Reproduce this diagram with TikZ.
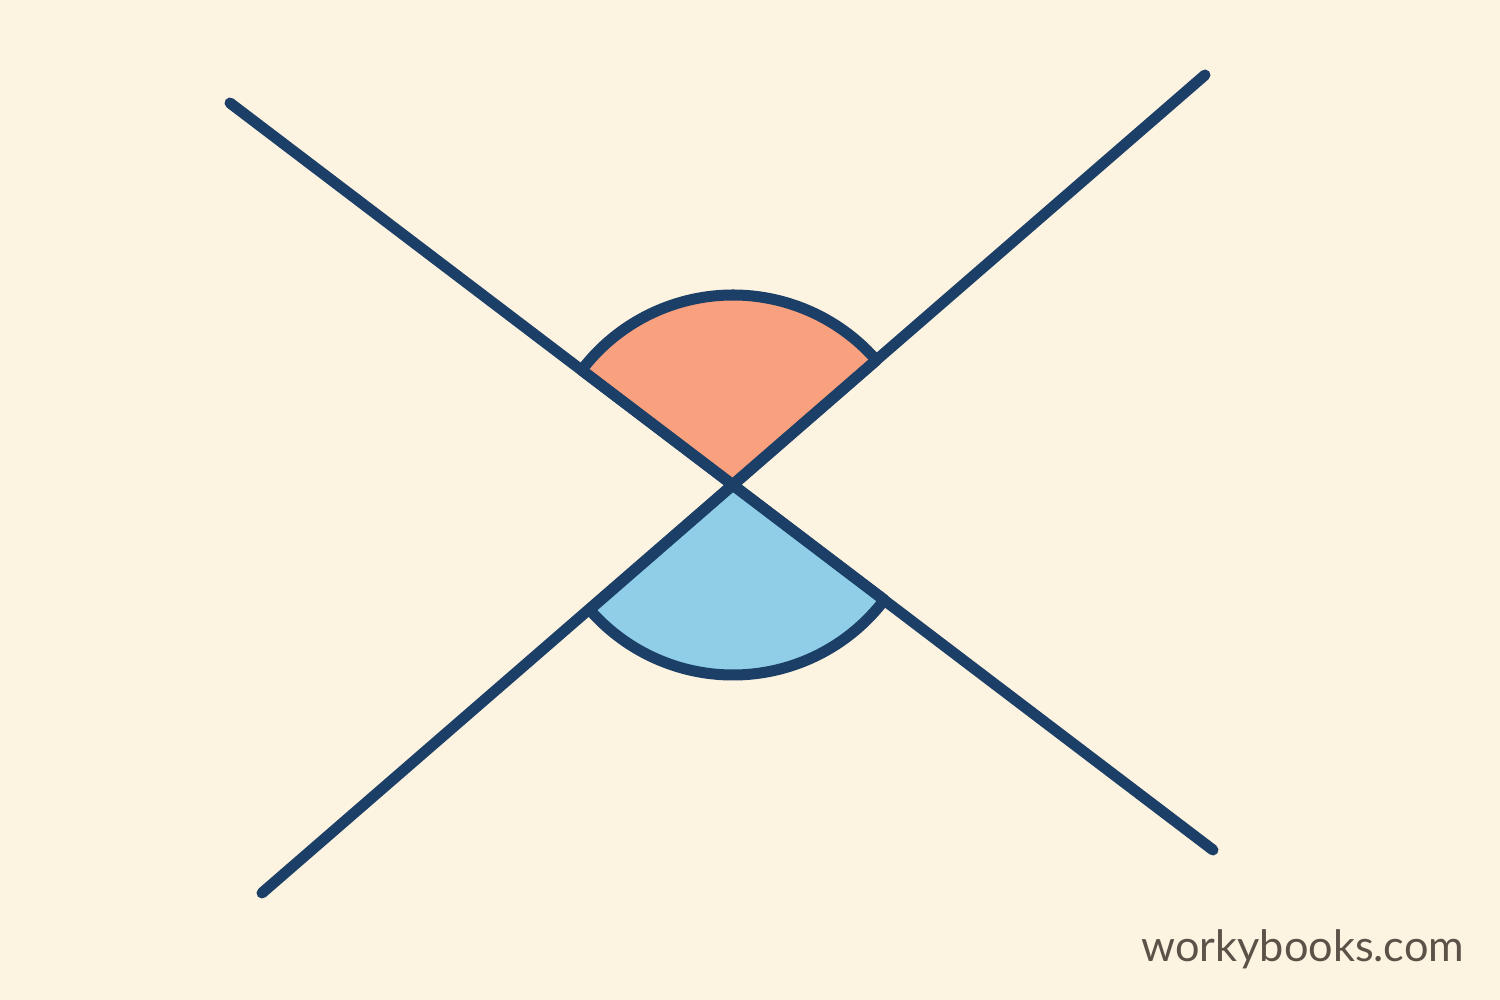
\documentclass[tikz,border=0pt]{standalone}
\usepackage{fontspec}
\newfontfamily\sitefont{Lato}
\definecolor{bgcream}{HTML}{FDF3E1}
\definecolor{navy}{HTML}{1B3F66}
\definecolor{sectororange}{HTML}{F9A07E}
\definecolor{sectorblue}{HTML}{8FCEE6}
\definecolor{sitegray}{HTML}{5C5248}
\begin{document}
\begin{tikzpicture}[x=0.01cm, y=0.01cm]
	\def\r{190}
	\tikzset{crossline/.style={draw=navy, line width=0.11cm, line cap=round},
		sector/.style={draw=navy, line width=0.11cm, line join=round}}
	
	% Background
	\fill[bgcream] (0,0) rectangle (1500,1000);
	
	% Crossing point and line ends
	\coordinate (O) at (733,515);
	\coordinate (A1) at (230,897);
	\coordinate (A2) at (1213,150);
	\coordinate (B1) at (262,107);
	\coordinate (B2) at (1205,925);
	
	% Vertical angles
	\filldraw[sector, fill=sectororange] (O) -- ++(142.8:\r) arc[start angle=142.8, end angle=41, radius=\r] -- cycle;
	\filldraw[sector, fill=sectorblue] (O) -- ++(221:\r) arc[start angle=221, end angle=322.8, radius=\r] -- cycle;
	
	% Lines
	\draw[crossline] (A1) -- (A2);
	\draw[crossline] (B1) -- (B2);
	
	% Label
	\node[anchor=base east, inner sep=0pt, text=sitegray, font=\sitefont\fontsize{12.3}{14}\selectfont] (site) at (1465,38) {workybooks.com};
\end{tikzpicture}
\end{document}
